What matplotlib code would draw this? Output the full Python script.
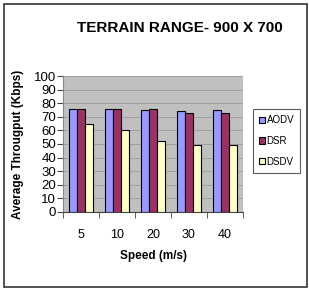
import matplotlib
matplotlib.use("Agg")
import matplotlib.pyplot as plt
import numpy as np
from matplotlib.patches import Rectangle

speeds = ["5", "10", "20", "30", "40"]
aodv = [76, 76, 75, 74, 75]
dsr = [76, 76, 75.5, 73, 72.5]
dsdv = [65, 60, 52.5, 49, 49.5]
series = [("AODV", aodv, "#9999ff"), ("DSR", dsr, "#993366"), ("DSDV", dsdv, "#ffffcc")]

plt.rcParams['font.family'] = ['Liberation Sans', 'DejaVu Sans']
fig = plt.figure(figsize=(3.09, 2.90), dpi=100)
fig.patches.append(Rectangle((0.012, 0.01), 0.98, 0.975, transform=fig.transFigure,
                             fill=False, edgecolor="#333333", linewidth=1.2))

W, H = 309, 290
ax = fig.add_axes([63/W, 1-212/H, (243-63)/W, (212-76)/H])
ax.set_facecolor("#c0c0c0")
x = np.arange(len(speeds))
bw = 0.22
for i, (name, vals, col) in enumerate(series):
    ax.bar(x + (i-1)*bw, vals, bw, color=col, edgecolor="black", linewidth=0.8, label=name, zorder=3)
ax.set_ylim(0, 100)
ax.set_xlim(-0.5, len(speeds)-0.5)
ax.set_yticks(range(0, 101, 10))
ax.yaxis.grid(True, color="#999999", linewidth=0.6, zorder=0)
ax.set_axisbelow(True)
ax.set_xticks(x)
ax.set_xticklabels(speeds, fontsize=9)
ax.set_xticks(np.arange(-0.5, len(speeds)), minor=True)
ax.tick_params(axis='x', which='major', length=0, pad=12)
ax.tick_params(axis='x', which='minor', length=4, direction='out', color='#444444')
ax.tick_params(axis='y', labelsize=9.5, length=4, direction='out', pad=1, color='#444444')
for s in ["top", "right"]:
    ax.spines[s].set_visible(False)
ax.spines["left"].set_color("#888888")
ax.spines["bottom"].set_color("#444444")
ax.set_xlabel("Speed (m/s)", fontsize=8.5, fontweight='bold', labelpad=7)
ax.set_ylabel("Average Througput (Kbps)", fontsize=8.5, fontweight='bold', labelpad=7)
fig.text(180/W, 1-28/H, "TERRAIN RANGE- 900 X 700", fontsize=11, fontweight='bold',
         ha='center', va='center')
leg = ax.legend(loc='center left', bbox_to_anchor=(253/W, 1-141/H), bbox_transform=fig.transFigure,
                fontsize=7, frameon=True, fancybox=False, edgecolor="#333333",
                handlelength=0.6, handleheight=0.6, handletextpad=0.2, labelspacing=1.1,
                borderpad=0.6, borderaxespad=0)
leg.get_frame().set_linewidth(0.8)
fig.savefig("out.png", dpi=100)
